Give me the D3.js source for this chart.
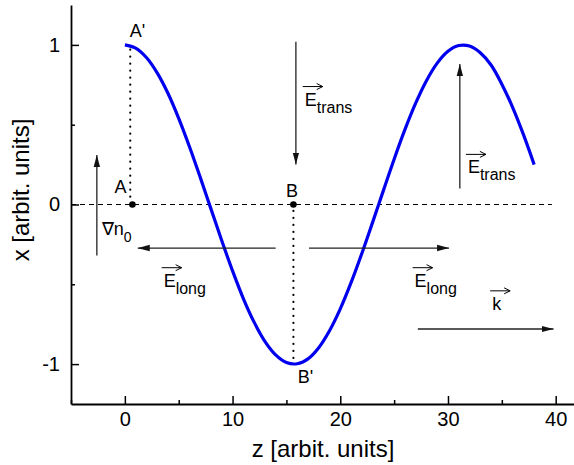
<!DOCTYPE html>
<html>
<head>
<meta charset="utf-8">
<script src="https://cdn.jsdelivr.net/npm/d3@7"></script>
<style>
  body { margin: 0; background: #fff; }
  svg { display: block; font-family: "Liberation Sans", Arial, sans-serif; }
</style>
</head>
<body>
<div id="chart"></div>
<script>
// curve samples (z, x)
const zValues = [0, 1, 2, 3, 4, 5, 6, 7, 8, 9, 10, 11, 12, 13, 14, 15, 16, 17, 18, 19,
                 20, 21, 22, 23, 24, 25, 26, 27, 28, 29, 30, 31, 32, 33, 34, 35, 36, 37, 38];
const xValues = [1.00, 0.98, 0.921, 0.825, 0.697, 0.54, 0.362, 0.17, -0.029, -0.227, -0.416, -0.589,
                 -0.737, -0.857, -0.942, -0.99, -0.998, -0.967, -0.897, -0.791, -0.654, -0.49,
                 -0.307, -0.112, 0.087, 0.284, 0.469, 0.635, 0.776, 0.886, 0.96, 0.996, 0.993, 0.951,
                 0.874, 0.754, 0.609, 0.439, 0.25];

const xTicks = [0, 10, 20, 30, 40];
const xMinor = [-5, 5, 15, 25, 35];
const yTicks = [-1, 0, 1];
const yMinor = [-0.5, 0.5];

// marked points and their dotted projections
const points = [{ name: "A", z: 0.7, x: 0 }, { name: "B", z: 15.65, x: 0 }];
const dotted = [
  { z: 0.5, x0: 0.97, x1: 0.03 },
  { z: 15.65, x0: -0.04, x1: -0.97 }
];

// annotation arrows [z0, x0, z1, x1]
const arrows = [
  [-2.6, -0.32, -2.6, 0.31],
  [15.88, 1.02, 15.88, 0.25],
  [31.1, 0.10, 31.1, 0.88],
  [14.0, -0.273, 1.2, -0.273],
  [17.1, -0.273, 30.1, -0.273],
  [27.2, -0.78, 39.8, -0.78]
];

// labels: text, subscript, z, x, vector arrow on top
const labels = [
  { t: "A'", s: "", z: 0.45, x: 1.05, vec: false },
  { t: "A", s: "", z: -0.95, x: 0.07, vec: false },
  { t: "B", s: "", z: 14.95, x: 0.045, vec: false },
  { t: "B'", s: "", z: 16.05, x: -1.12, vec: false },
  { t: "\u2207n", s: "0", z: -2.15, x: -0.19, vec: false },
  { t: "E", s: "trans", z: 16.7, x: 0.62, vec: true },
  { t: "E", s: "trans", z: 31.85, x: 0.195, vec: true },
  { t: "E", s: "long", z: 3.6, x: -0.515, vec: true },
  { t: "E", s: "long", z: 26.9, x: -0.515, vec: true },
  { t: "k", s: "", z: 34.1, x: -0.66, vec: true }
];

const W = 574, H = 465;
const svg = d3.select("#chart").append("svg").attr("width", W).attr("height", H);

const x = d3.scaleLinear().domain([-5, 41.7]).range([71, 574]);
const y = d3.scaleLinear().domain([-1.25, 1.25]).range([404, 5]);
const fmt = d => String(d).replace("\u2212", "-");

// axes (ticks point inward)
svg.append("g").attr("transform", "translate(0,404)")
  .call(d3.axisBottom(x).tickValues(xTicks).tickFormat(fmt).tickSize(-8).tickSizeOuter(0).tickPadding(8));
svg.append("g").attr("transform", "translate(0,404)")
  .call(d3.axisBottom(x).tickValues(xMinor).tickSize(-4).tickFormat(""))
  .select(".domain").remove();
svg.append("g").attr("transform", "translate(71,0)")
  .call(d3.axisLeft(y).tickValues(yTicks).tickFormat(fmt).tickSize(-8).tickSizeOuter(0).tickPadding(11));
svg.append("g").attr("transform", "translate(71,0)")
  .call(d3.axisLeft(y).tickValues(yMinor).tickSize(-4).tickFormat(""))
  .select(".domain").remove();

svg.selectAll(".domain").attr("stroke", "#000").attr("stroke-width", 1.8);
svg.selectAll(".tick line").attr("stroke", "#000").attr("stroke-width", 1.5);
svg.selectAll(".tick text").attr("font-size", 20).attr("font-family", "Liberation Sans, Arial, sans-serif").attr("fill", "#000");

svg.append("text").attr("x", 323).attr("y", 457).attr("text-anchor", "middle")
  .attr("font-size", 24).text("z [arbit. units]");
svg.append("text").attr("transform", "translate(29,190) rotate(-90)").attr("text-anchor", "middle")
  .attr("font-size", 24).text("x [arbit. units]");

// zero line
svg.append("line")
  .attr("x1", x(-5)).attr("x2", x(39.65)).attr("y1", y(0)).attr("y2", y(0))
  .attr("stroke", "#000").attr("stroke-width", 1.2).attr("stroke-dasharray", "5,4");

// dotted projections
svg.selectAll(".proj").data(dotted).enter().append("line")
  .attr("x1", d => x(d.z)).attr("x2", d => x(d.z))
  .attr("y1", d => y(d.x0)).attr("y2", d => y(d.x1))
  .attr("stroke", "#000").attr("stroke-width", 2.2)
  .attr("stroke-dasharray", "0,7").attr("stroke-linecap", "round");

// curve
const line = d3.line().x(d => x(d[0])).y(d => y(d[1])).curve(d3.curveCatmullRom);
svg.append("path").datum(zValues.map((z, i) => [z, xValues[i]]))
  .attr("d", line).attr("fill", "none").attr("stroke", "#0000ee").attr("stroke-width", 3.2);

// points
svg.selectAll(".pt").data(points).enter().append("circle")
  .attr("cx", d => x(d.z)).attr("cy", d => y(d.x)).attr("r", 3.3).attr("fill", "#000");

// arrows
const defs = svg.append("defs");
defs.append("marker").attr("id", "head").attr("viewBox", "0 0 12 8")
  .attr("refX", 12).attr("refY", 4).attr("markerWidth", 12).attr("markerHeight", 8)
  .attr("markerUnits", "userSpaceOnUse").attr("orient", "auto")
  .append("path").attr("d", "M0,0.8 L12,4 L0,7.2 Z").attr("fill", "#111");

svg.selectAll(".arr").data(arrows).enter().append("line")
  .attr("x1", d => x(d[0])).attr("y1", d => y(d[1]))
  .attr("x2", d => x(d[2])).attr("y2", d => y(d[3]))
  .attr("stroke", "#222").attr("stroke-width", 1.3).attr("marker-end", "url(#head)");

// labels
labels.forEach(d => {
  const px = x(d.z), py = y(d.x);
  const t = svg.append("text").attr("x", px).attr("y", py).attr("font-size", 18).attr("fill", "#000");
  t.append("tspan").text(d.t);
  if (d.s) {
    t.append("tspan").attr("font-size", d.s === "0" ? 14 : 16).attr("dy", 7).text(d.s);
  }
  if (d.vec) {
    const w = 20;
    const ay = py - 19, ax = px - 2;
    svg.append("path")
      .attr("d", `M${ax},${ay} L${ax + w},${ay} M${ax + w - 6},${ay - 3} L${ax + w},${ay} L${ax + w - 6},${ay + 3}`)
      .attr("fill", "none").attr("stroke", "#000").attr("stroke-width", 1);
  }
});
</script>
</body>
</html>
